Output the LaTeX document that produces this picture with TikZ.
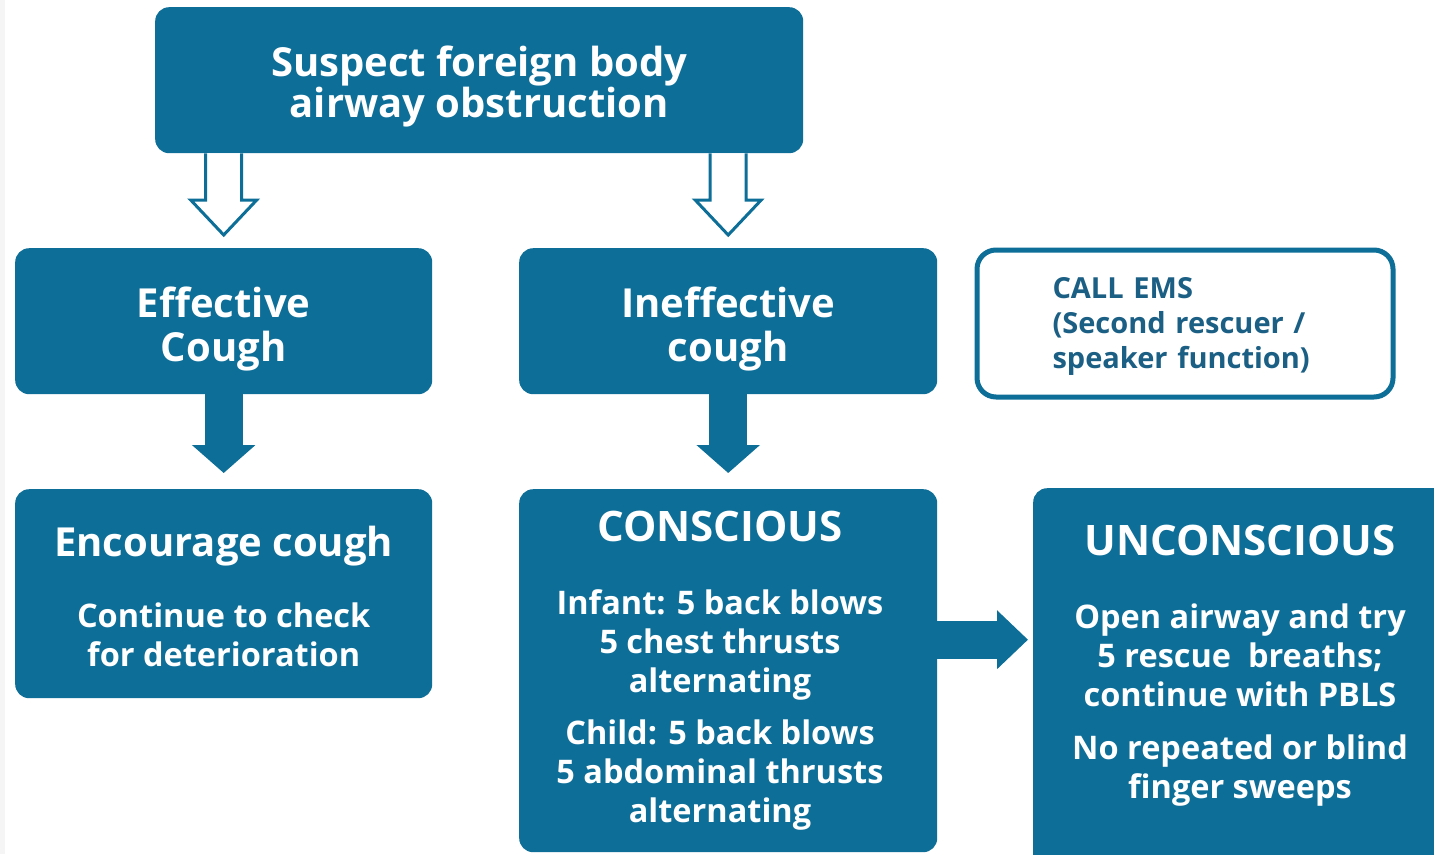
\documentclass[tikz,border=0pt]{standalone}
\usepackage{fontspec}
\setmainfont{Open Sans}
\usetikzlibrary{arrows.meta,calc}
\definecolor{ercblue}{HTML}{0D6E98}
\definecolor{ercdark}{HTML}{1B5F85}
\newcommand\toptxt{\fontsize{40}{41}\selectfont\bfseries}
\newcommand\bigtxt{\fontsize{40}{44}\selectfont\bfseries}
\newcommand\headtxt{\fontsize{40}{43}\selectfont\bfseries}
\newcommand\captxt{\fontsize{42}{43}\selectfont\bfseries}
\newcommand\bodytxt{\fontsize{32.5}{39}\selectfont\bfseries}
\newcommand\emstxt{\fontsize{29}{35}\selectfont\bfseries}
\begin{document}
\begin{tikzpicture}[x=1pt,y=-1pt,
  box/.style={fill=ercblue, rounded corners=14pt, text=white, align=center, inner sep=0pt, anchor=north west},
  boxtext/.style={text=white, align=center, inner sep=0pt, font=\bodytxt},
  emsbox/.style={draw=ercblue, line width=5pt, fill=white, rounded corners=19pt, text=ercdark, align=left,
    inner xsep=75.5pt, inner ysep=0pt, text width=265pt, anchor=north west, font=\emstxt},
  hollowarr/.style={draw=ercblue, line width=3pt, fill=white, line join=miter},
  solidarr/.style={draw=ercblue, line width=38pt, -{Triangle[width=62pt,length=28pt]}},
  sidearr/.style={draw=ercblue, line width=38pt, -{Triangle[width=57pt,length=31pt]}}
]
\useasboundingbox (0,0) rectangle (1434,854);
\clip (0,0) rectangle (1434,854);
\fill[white] (0,0) rectangle (1434,854);
\fill[gray!8] (0,0) rectangle (5,854);

% boxes
\node[box, minimum width=648, minimum height=146, font=\toptxt] (top) at (155,7)
  {\rule{0pt}{43pt}Suspect foreign body\\airway obstruction};
\node[box, minimum width=417, minimum height=146, font=\bigtxt] (eff) at (15,248)
  {\rule{0pt}{46pt}Effective\\Cough};
\node[box, minimum width=418, minimum height=146, font=\bigtxt] (inef) at (519,248)
  {\rule{0pt}{46pt}Ineffective\\cough};
\node[emsbox, minimum width=416, minimum height=147] (ems) at (974.5,247.5)
  {\rule{0pt}{27pt}CALL EMS\\(Second rescuer /\\speaker function)};
\node[box, minimum width=417, minimum height=209, font=\bodytxt] (enc) at (15,489)
  {{\headtxt\rule{0pt}{36pt}Encourage cough}\\[32pt]Continue to check\\for deterioration};
\node[box, minimum width=418, minimum height=363] (cons) at (519,489) {};
\node[boxtext] (constext) at (720,670.5)
  {{\captxt CONSCIOUS}\\[34pt]Infant: 5 back blows\\5 chest thrusts\\alternating\\[13pt]Child: 5 back blows\\5 abdominal thrusts\\alternating};
\node[box, minimum width=460, minimum height=420] (unc) at (1033,488) {};
\node[boxtext] (unctext) at (1240,666)
  {{\captxt UNCONSCIOUS}\\[34pt]Open airway and try\\5 rescue~~breaths;\\continue with PBLS\\[14pt]No repeated or blind\\finger sweeps};

% hollow arrows
\foreach \child in {eff,inef}{
  \draw[hollowarr] let \p1=(top.south -| \child.north), \p2=(\child.north) in
    (\x1-18pt,\y1) -- (\x1-18pt,\y2+48pt) -- (\x1-33pt,\y2+48pt) -- (\x1,\y2+13pt)
    -- (\x1+33pt,\y2+48pt) -- (\x1+18pt,\y2+48pt) -- (\x1+18pt,\y1);
}

% solid arrows
\draw[solidarr, shorten >=16pt] (eff.south) -- (enc.north);
\draw[solidarr, shorten >=16pt] (inef.south) -- (cons.north);
\draw[sidearr, shorten >=5pt] ([yshift=31pt]cons.east) -- ([yshift=31pt]cons.east -| unc.west);
\end{tikzpicture}
\end{document}
